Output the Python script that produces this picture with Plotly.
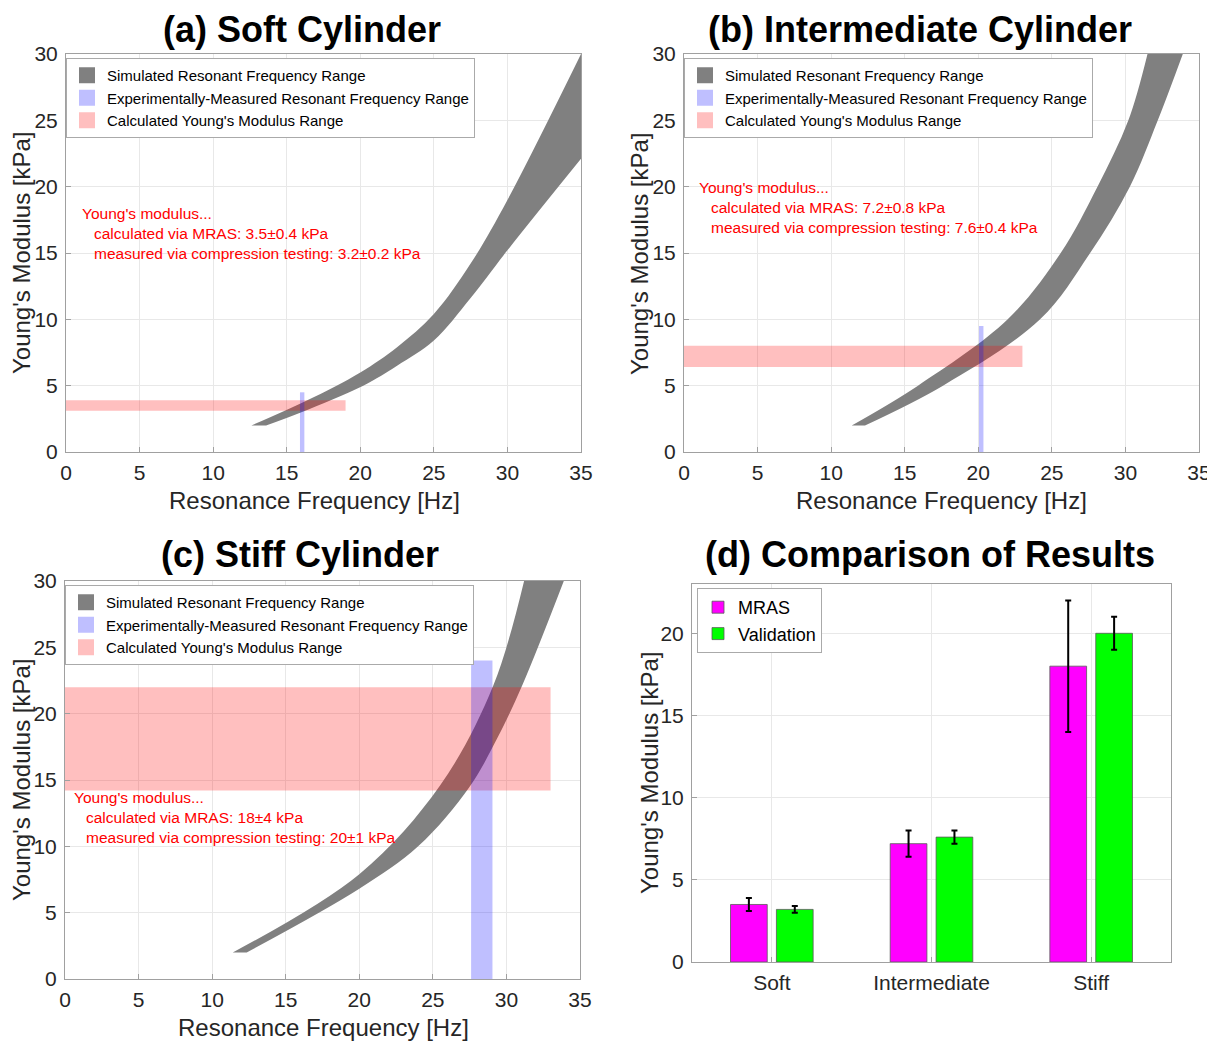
import plotly.graph_objects as go

# page body adds an 8px offset; the figure is drawn inside the remaining area
OFF = 8
W, H = 1215 - OFF, 1041 - OFF
FONT = "Liberation Sans, Arial, Helvetica, sans-serif"
TXT = "#262626"
AX = "rgb(160,160,160)"
GRID = "rgb(232,232,232)"
GRAY = "rgb(128,128,128)"
BLUE = "rgba(0,0,255,0.25)"
RED = "rgba(255,0,0,0.25)"

# ---------------- data ----------------
freq_ticks = [0, 5, 10, 15, 20, 25, 30, 35]
mod_ticks = [0, 5, 10, 15, 20, 25, 30]

# (a) Soft cylinder: simulated band edges (frequency Hz, modulus kPa)
a_upper_f = [12.6, 16.4, 20.0, 22.5, 25.0, 27.5, 30.0, 35.0]
a_upper_E = [2.0, 3.9, 6.0, 7.9, 10.4, 14.2, 19.0, 30.0]
a_lower_f = [13.6, 16.0, 20.2, 22.5, 25.0, 27.5, 30.0, 35.0]
a_lower_E = [2.0, 3.0, 5.0, 6.5, 8.4, 11.6, 15.2, 22.1]
a_calc_E = [3.1, 3.9]       # calculated modulus range
a_calc_fmax = 19.0
a_meas_f = [15.9, 16.2]     # measured resonance range
a_meas_Emax = 4.5

# (b) Intermediate cylinder
b_upper_f = [11.4, 15.9, 22.0, 25.6, 28.1, 30.2, 31.5]
b_upper_E = [2.0, 5.0, 10.0, 15.0, 20.0, 25.0, 30.0]
b_lower_f = [12.3, 17.6, 24.2, 27.6, 30.3, 32.2, 33.9]
b_lower_E = [2.0, 5.0, 10.0, 15.0, 20.0, 25.0, 30.0]
b_calc_E = [6.4, 8.0]
b_calc_fmax = 23.0
b_meas_f = [20.05, 20.35]
b_meas_Emax = 9.5

# (c) Stiff cylinder
c_upper_f = [11.4, 20.0, 25.5, 29.1, 31.2]
c_upper_E = [2.0, 7.9, 14.6, 22.1, 30.0]
c_lower_f = [12.35, 20.0, 24.0, 27.5, 29.4, 31.1, 33.9]
c_lower_E = [2.0, 6.8, 10.0, 14.5, 18.2, 22.2, 30.0]
c_calc_E = [14.2, 22.0]
c_calc_fmax = 33.0
c_meas_f = [27.6, 29.05]
c_meas_Emax = 24.0

# (d) comparison
categories = ["Soft", "Intermediate", "Stiff"]
mras = [3.5, 7.2, 18.0]
mras_err = [0.4, 0.8, 4.0]
validation = [3.2, 7.6, 20.0]
validation_err = [0.2, 0.4, 1.0]
bar_ticks = [0, 5, 10, 15, 20]

legend_names = ["Simulated Resonant Frequency Range",
                "Experimentally-Measured Resonant Frequency Range",
                "Calculated Young's Modulus Range"]

panel_titles = ["(a) Soft Cylinder", "(b) Intermediate Cylinder",
                "(c) Stiff Cylinder", "(d) Comparison of Results"]

texts_a = ["Young's modulus...", "calculated via MRAS: 3.5\u00b10.4 kPa",
           "measured via compression testing: 3.2\u00b10.2 kPa"]
texts_b = ["Young's modulus...", "calculated via MRAS: 7.2\u00b10.8 kPa",
           "measured via compression testing: 7.6\u00b10.4 kPa"]
texts_c = ["Young's modulus...", "calculated via MRAS: 18\u00b14 kPa",
           "measured via compression testing: 20\u00b11 kPa"]
# text anchor (frequency, modulus of each line)
text_a_pos = (0.95, [18.0, 16.5, 15.0])
text_b_pos = (0.9, [19.9, 18.4, 16.9])
text_c_pos = (0.45, [13.7, 12.2, 10.7])

# ---------------- layout helpers (reference pixel -> paper fraction) ----------------
def px_x(p):
    return (p - OFF) / W

def px_y(p):
    return 1 - (p - OFF) / H

panels = {
    "a": dict(x=(66, 581), y=(452, 54), xa="x", ya="y"),
    "b": dict(x=(684, 1199), y=(452, 54), xa="x2", ya="y2"),
    "c": dict(x=(65, 580), y=(979, 581), xa="x3", ya="y3"),
    "d": dict(x=(692, 1171), y=(962, 584), xa="x4", ya="y4"),
}

fig = go.Figure()

def add_panel(key, uf, uE, lf, lE, calcE, calc_fmax, measf, meas_Emax, legend):
    p = panels[key]
    xa, ya = p["xa"], p["ya"]
    # lower edge of simulated band
    fig.add_trace(go.Scatter(x=lf, y=lE, mode="lines",
                             line=dict(width=0, shape="spline", smoothing=1.0, color=GRAY),
                             showlegend=False, hoverinfo="skip", xaxis=xa, yaxis=ya))
    # upper edge, filled to lower edge
    fig.add_trace(go.Scatter(x=uf, y=uE, mode="lines",
                             line=dict(width=0, shape="spline", smoothing=1.0, color=GRAY),
                             fill="tonexty", fillcolor=GRAY, showlegend=False, hoverinfo="skip",
                             xaxis=xa, yaxis=ya))
    # calculated modulus range (horizontal band)
    fig.add_trace(go.Scatter(x=[0, calc_fmax, calc_fmax, 0, 0],
                             y=[calcE[0], calcE[0], calcE[1], calcE[1], calcE[0]],
                             mode="lines", line=dict(width=0), fill="toself", fillcolor=RED,
                             showlegend=False, hoverinfo="skip", xaxis=xa, yaxis=ya))
    # measured resonance range (vertical band)
    fig.add_trace(go.Scatter(x=[measf[0], measf[1], measf[1], measf[0], measf[0]],
                             y=[0, 0, meas_Emax, meas_Emax, 0],
                             mode="lines", line=dict(width=0), fill="toself", fillcolor=BLUE,
                             showlegend=False, hoverinfo="skip", xaxis=xa, yaxis=ya))
    # legend entries
    for name, col in zip(legend_names, [GRAY, BLUE, RED]):
        fig.add_trace(go.Scatter(x=[None], y=[None], mode="markers", name=name,
                                 marker=dict(symbol="square", size=16, color=col, line=dict(width=0)),
                                 legend=legend, xaxis=xa, yaxis=ya, hoverinfo="skip"))

add_panel("a", a_upper_f, a_upper_E, a_lower_f, a_lower_E, a_calc_E, a_calc_fmax, a_meas_f, a_meas_Emax, "legend")
add_panel("b", b_upper_f, b_upper_E, b_lower_f, b_lower_E, b_calc_E, b_calc_fmax, b_meas_f, b_meas_Emax, "legend2")
add_panel("c", c_upper_f, c_upper_E, c_lower_f, c_lower_E, c_calc_E, c_calc_fmax, c_meas_f, c_meas_Emax, "legend3")

fig.add_trace(go.Bar(x=categories, y=mras, name="MRAS",
                     marker=dict(color="#ff00ff", line=dict(color="rgb(90,90,90)", width=0.8)),
                     error_y=dict(type="data", array=mras_err, color="black", thickness=2, width=3),
                     xaxis="x4", yaxis="y4", legend="legend4"))
fig.add_trace(go.Bar(x=categories, y=validation, name="Validation",
                     marker=dict(color="#00ff00", line=dict(color="rgb(90,90,90)", width=0.8)),
                     error_y=dict(type="data", array=validation_err, color="black", thickness=2, width=3),
                     xaxis="x4", yaxis="y4", legend="legend4"))

axis_common = dict(showline=True, mirror=True, linecolor=AX, linewidth=1,
                   ticks="inside", ticklen=5, tickcolor=AX, automargin=False,
                   showgrid=True, gridcolor=GRID, gridwidth=1, zeroline=False,
                   tickfont=dict(family=FONT, size=21, color=TXT))

layout = dict(width=W, height=H, margin=dict(l=0, r=0, t=0, b=0, autoexpand=False),
              paper_bgcolor="white", plot_bgcolor="white",
              bargap=0.425, bargroupgap=0.2, barmode="group",
              font=dict(family=FONT, color=TXT))

for i, key in enumerate(["a", "b", "c", "d"]):
    p = panels[key]
    sfx = "" if i == 0 else str(i + 1)
    xd = [px_x(p["x"][0]), px_x(p["x"][1])]
    yd = [px_y(p["y"][0]), px_y(p["y"][1])]
    if key != "d":
        layout["xaxis" + sfx] = dict(axis_common, domain=xd, range=[0, 35], tickvals=freq_ticks,
                                     anchor="y" + sfx, ticklabelstandoff=2)
        layout["yaxis" + sfx] = dict(axis_common, domain=yd, range=[0, 30], tickvals=mod_ticks,
                                     anchor="x" + sfx, ticklabelstandoff=3)
    else:
        layout["xaxis" + sfx] = dict(axis_common, domain=xd, type="category", range=[-0.5, 2.5],
                                     anchor="y" + sfx, ticklabelstandoff=2)
        layout["yaxis" + sfx] = dict(axis_common, domain=yd, range=[0, 23], tickvals=bar_ticks,
                                     anchor="x" + sfx, ticklabelstandoff=3)

leg_common = dict(xanchor="left", yanchor="top", bgcolor="white", bordercolor="rgb(170,170,170)",
                  borderwidth=1, font=dict(family=FONT, size=15, color="black"), tracegroupgap=0,
                  itemwidth=30, traceorder="normal")
layout["legend"] = dict(leg_common, x=px_x(66), y=px_y(58))
layout["legend2"] = dict(leg_common, x=px_x(684), y=px_y(58))
layout["legend3"] = dict(leg_common, x=px_x(65), y=px_y(585))
layout["legend4"] = dict(leg_common, x=px_x(697), y=px_y(588), font=dict(family=FONT, size=18, color="black"))

annotations = []
title_pos = [(302, 30), (920, 30), (300, 554), (930, 554)]
for t, (tx, ty) in zip(panel_titles, title_pos):
    annotations.append(dict(text="<b>" + t + "</b>", x=px_x(tx), y=px_y(ty), xref="paper", yref="paper",
                            xanchor="center", yanchor="middle", showarrow=False,
                            font=dict(family=FONT, size=36, color="black")))

ytitle_pos = [(22, 253), (640, 253), (21, 780), (649, 773)]
for tx, ty in ytitle_pos:
    annotations.append(dict(text="Young's Modulus [kPa]", x=px_x(tx), y=px_y(ty), xref="paper", yref="paper",
                            xanchor="center", yanchor="middle", showarrow=False, textangle=-90,
                            font=dict(family=FONT, size=24, color=TXT)))
xtitle_pos = [(314, 501), (941, 501), (323, 1027)]
for tx, ty in xtitle_pos:
    annotations.append(dict(text="Resonance Frequency [Hz]", x=px_x(tx), y=px_y(ty), xref="paper", yref="paper",
                            xanchor="center", yanchor="middle", showarrow=False,
                            font=dict(family=FONT, size=24, color=TXT)))

for texts, (fx, ys), sfx in [(texts_a, text_a_pos, ""), (texts_b, text_b_pos, "2"), (texts_c, text_c_pos, "3")]:
    for j, (t, yv) in enumerate(zip(texts, ys)):
        annotations.append(dict(text=t, x=fx, y=yv, xref="x" + sfx, yref="y" + sfx,
                                xanchor="left", yanchor="middle", showarrow=False,
                                xshift=0 if j == 0 else 12,
                                font=dict(family=FONT, size=15.5, color="red")))

layout["annotations"] = annotations
fig.update_layout(**layout)

fig.write_html("out.html")
